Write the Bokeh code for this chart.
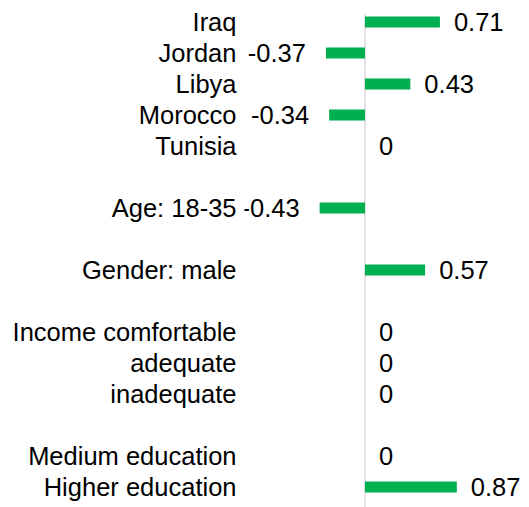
from bokeh.plotting import figure
from bokeh.models import Range1d, FixedTicker, ColumnDataSource
from bokeh.embed import file_html
from bokeh.resources import INLINE
from bokeh.core.properties import value

# Data
categories = ["Iraq", "Jordan", "Libya", "Morocco", "Tunisia",
              "Age: 18-35", "Gender: male",
              "Income comfortable", "adequate", "inadequate",
              "Medium education", "Higher education"]
values = [0.71, -0.37, 0.43, -0.34, 0.0, -0.43, 0.57, 0.0, 0.0, 0.0, 0.0, 0.87]
# row slot of each category (blank slots separate groups)
slots = [0, 1, 2, 3, 4, 6, 8, 10, 11, 12, 14, 15]

GREEN = "#00B050"
FONT = "Liberation Sans"
FSIZE = "25.5px"

p = figure(width=529, height=507, output_backend="svg", toolbar_location=None,
           x_range=Range1d(-1.142, 1.559), y_range=Range1d(15.661, -0.6935),
           min_border_left=244, min_border_right=0, min_border_top=0, min_border_bottom=0)
p.outline_line_color = None
p.xgrid.visible = False
p.ygrid.visible = False
p.xaxis.visible = False
p.background_fill_color = "white"
p.border_fill_color = "white"

ax = p.yaxis[0]
ax.ticker = FixedTicker(ticks=slots)
ax.major_label_overrides = {s: c for s, c in zip(slots, categories)}
ax.axis_line_color = None
ax.major_tick_line_color = None
ax.minor_tick_line_color = None
ax.major_tick_out = 0
ax.major_tick_in = 0
ax.major_label_standoff = 8
ax.major_label_text_font = FONT
ax.major_label_text_font_size = FSIZE
ax.major_label_text_color = "#000000"

# zero axis line
p.segment(x0=[0], y0=[-0.274], x1=[0], y1=[15.661], line_color="#D9D9D9", line_width=1.5)

src = ColumnDataSource(dict(y=slots, v=values))
p.hbar(y="y", left=0, right="v", height=0.355, source=src, fill_color=GREEN, line_color=None)

pos = ColumnDataSource(dict(y=[s for s, v in zip(slots, values) if v >= 0],
                            v=[v for v in values if v >= 0],
                            lbl=[("%g" % v) for v in values if v >= 0]))
neg = ColumnDataSource(dict(y=[s for s, v in zip(slots, values) if v < 0],
                            v=[v for v in values if v < 0],
                            lbl=[("%g" % v) for v in values if v < 0]))
p.text(x="v", y="y", text="lbl", source=pos, x_offset=14, text_align="left",
       text_baseline="middle", text_font=value(FONT), text_font_size=FSIZE, text_color="#000000")
p.text(x="v", y="y", text="lbl", source=neg, x_offset=-20, text_align="right",
       text_baseline="middle", text_font=value(FONT), text_font_size=FSIZE, text_color="#000000")

open("out.html", "w").write(file_html(p, INLINE))
